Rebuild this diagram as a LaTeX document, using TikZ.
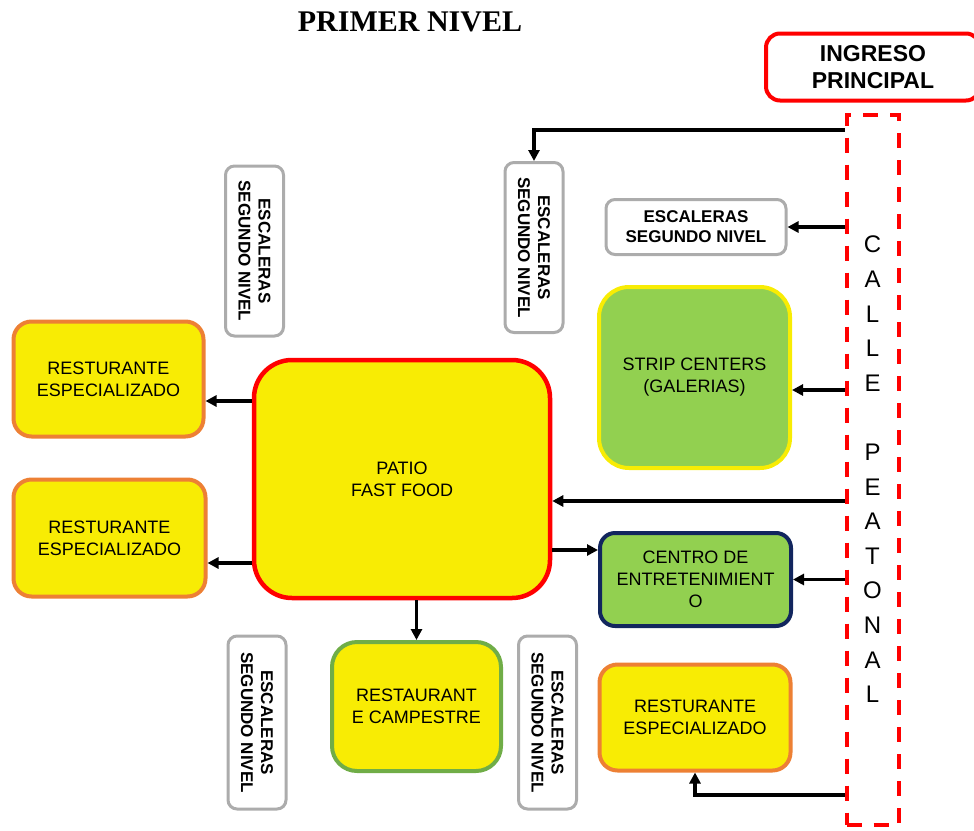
\documentclass[tikz,border=0pt]{standalone}
\usepackage{fontspec}
\setmainfont{Liberation Sans}
\newfontfamily\titlefont{Liberation Serif}
\usetikzlibrary{arrows.meta}
\definecolor{yellowF}{RGB}{248,236,4}
\definecolor{greenF}{RGB}{146,208,80}
\definecolor{orangeB}{RGB}{237,128,52}
\definecolor{redB}{RGB}{255,0,0}
\definecolor{navyB}{RGB}{18,38,94}
\definecolor{grayB}{RGB}{172,172,172}
\definecolor{greenB}{RGB}{112,173,71}

\begin{document}
\begin{tikzpicture}[x=1pt,y=-1pt,>={Triangle[length=11pt,width=11pt]},font=\fontsize{18}{22}\selectfont,
 box/.style={draw,line width=4pt,align=center,inner sep=2pt},
 rest/.style={box,draw=orangeB,fill=yellowF,rounded corners=18pt,minimum width=190pt},
 stairh/.style={draw=grayB,line width=3pt,rounded corners=9pt,fill=white,align=center,inner sep=2pt,
   font=\bfseries\fontsize{17}{20}\selectfont,minimum width=180pt,minimum height=55pt},
 stairv/.style={stairh,rotate=-90,minimum width=170pt,minimum height=58pt},
 arr/.style={->,line width=3.4pt}]
\useasboundingbox (0,0) rectangle (974,830);
\node[font=\titlefont\bfseries\fontsize{30}{34}\selectfont] (title) at (410,22) {PRIMER NIVEL};
\node[box,draw=redB,rounded corners=14pt,minimum width=214pt,minimum height=67pt,font=\bfseries\fontsize{23}{27}\selectfont] (ingreso) at (873,67) {INGRESO\\PRINCIPAL};
\node[draw=redB,line width=4pt,dash pattern=on 15pt off 12pt,minimum width=52pt,minimum height=710pt,align=center,
  font=\fontsize{24}{34.6}\selectfont] (calle) at (872.5,469.5) {C\\A\\L\\L\\E\\[34.6pt]P\\E\\A\\T\\O\\N\\A\\L};
\node[stairv] (esc1) at (254.5,251) {ESCALERAS\\SEGUNDO NIVEL};
\node[stairv] (esc2) at (534,247.5) {ESCALERAS\\SEGUNDO NIVEL};
\node[stairh] (esc3) at (696,227) {ESCALERAS\\SEGUNDO NIVEL};
\node[stairv,minimum width=173pt] (esc4) at (257,722.5) {ESCALERAS\\SEGUNDO NIVEL};
\node[stairv,minimum width=173pt] (esc5) at (547.5,722.5) {ESCALERAS\\SEGUNDO NIVEL};
\node[rest,minimum height=115pt] (rest1) at (108.5,379) {RESTURANTE\\ESPECIALIZADO};
\node[rest,minimum width=192pt,minimum height=117pt] (rest2) at (109.5,538) {RESTURANTE\\ESPECIALIZADO};
\node[rest,minimum width=191pt,minimum height=106pt] (rest3) at (695,717.5) {RESTURANTE\\ESPECIALIZADO};
\node[box,draw=redB,fill=yellowF,line width=4.5pt,rounded corners=38pt,minimum width=296pt,minimum height=238pt] (patio) at (402,479) {PATIO\\FAST FOOD};
\node[box,draw=yellowF,fill=greenF,rounded corners=30pt,minimum width=191pt,minimum height=181pt] (strip) at (694.5,377.5) {STRIP CENTERS\\(GALERIAS)};
\node[box,draw=navyB,fill=greenF,rounded corners=15pt,minimum width=191pt,minimum height=93pt] (centro) at (695.5,579.5) {CENTRO DE\\ENTRETENIMIENT\\O};
\node[box,draw=greenB,fill=yellowF,rounded corners=25pt,minimum width=169pt,minimum height=129pt] (campestre) at (416.5,706.5) {RESTAURANT\\E CAMPESTRE};
\draw[arr] (calle.west |- 0,130) -| (esc2.west);
\draw[arr] (calle.west |- esc3.east) -- (esc3.east);
\draw[arr] (calle.west |- 0,390) -- (strip.east |- 0,390);
\draw[arr] (calle.west |- 0,501) -- (patio.east |- 0,501);
\draw[arr] (calle.west |- centro.east) -- (centro.east);
\draw[arr] (calle.west |- 0,795) -| (rest3.south);
\draw[arr] (patio.east |- 0,550) -- (centro.west |- 0,550);
\draw[arr] (patio.west |- 0,401) -- (rest1.east |- 0,401);
\draw[arr] (patio.west |- 0,563) -- (rest2.east |- 0,563);
\draw[arr] (patio.south -| campestre.north) -- (campestre.north);
\end{tikzpicture}
\end{document}
